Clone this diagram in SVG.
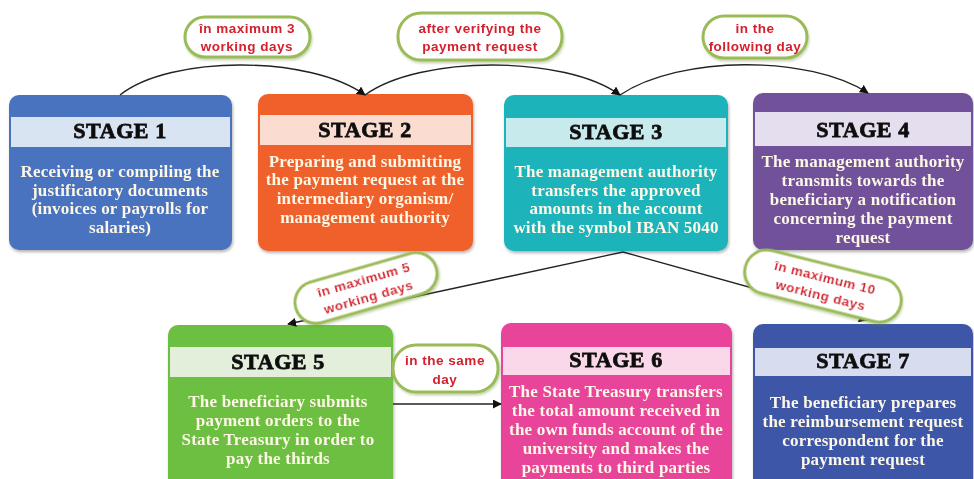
<svg xmlns="http://www.w3.org/2000/svg" width="974" height="479" viewBox="0 0 974 479">
<defs>
<filter id="sh" x="-10%" y="-10%" width="120%" height="125%"><feDropShadow dx="1" dy="2" stdDeviation="1.5" flood-color="#000" flood-opacity="0.3"/></filter>
<filter id="psh" x="-10%" y="-20%" width="120%" height="150%"><feDropShadow dx="1" dy="2" stdDeviation="1.2" flood-color="#6a8a30" flood-opacity="0.35"/></filter>
<marker id="ah" viewBox="0 0 10 10" refX="9" refY="5" markerWidth="9" markerHeight="9" markerUnits="userSpaceOnUse" orient="auto"><path d="M0,0 L10,5 L0,10 z" fill="#111"/></marker>
</defs>
<style>
.title{font-family:"Liberation Serif",serif;font-weight:bold;font-size:22px;letter-spacing:0.6px;fill:#111;stroke:#111;stroke-width:0.8;text-anchor:middle}
.body{font-family:"Liberation Serif",serif;font-weight:bold;font-size:17px;letter-spacing:0.2px;fill:#fdf7e6;text-anchor:middle}
.pill{fill:#fff;stroke:#9bbb59;stroke-width:3}
.lbl{font-family:"Liberation Sans",sans-serif;font-weight:bold;font-size:13.5px;letter-spacing:0.5px;fill:#d3202e;text-anchor:middle}
.con{fill:none;stroke:#222;stroke-width:1.3}
</style>
<rect width="974" height="479" fill="#fff"/>

<g id="stage1" filter="url(#sh)">
<rect x="9" y="95" width="223" height="155" rx="10" fill="#4a72bf"/>
<rect x="11" y="117" width="219" height="30" fill="#d9e4f2"/>
<text class="title" x="120" y="138">STAGE 1</text>
<text class="body" x="120" y="177">Receiving or compiling the</text>
<text class="body" x="120" y="196">justificatory documents</text>
<text class="body" x="120" y="214">(invoices or payrolls for</text>
<text class="body" x="120" y="233">salaries)</text>
</g>

<g id="stage2" filter="url(#sh)">
<rect x="258" y="94" width="215" height="157" rx="10" fill="#f0612b"/>
<rect x="260" y="115" width="211" height="30" fill="#fbdcd0"/>
<text class="title" x="365" y="137">STAGE 2</text>
<text class="body" x="365" y="167">Preparing and submitting</text>
<text class="body" x="365" y="185">the payment request at the</text>
<text class="body" x="365" y="204">intermediary organism/</text>
<text class="body" x="365" y="223">management authority</text>
</g>

<g id="stage3" filter="url(#sh)">
<rect x="504" y="95" width="224" height="156" rx="10" fill="#1db3bb"/>
<rect x="506" y="118" width="220" height="29" fill="#c7eaed"/>
<text class="title" x="616" y="139">STAGE 3</text>
<text class="body" x="616" y="177">The management authority</text>
<text class="body" x="616" y="196">transfers the approved</text>
<text class="body" x="616" y="214">amounts in the account</text>
<text class="body" x="616" y="233">with the symbol IBAN 5040</text>
</g>

<g id="stage4" filter="url(#sh)">
<rect x="753" y="93" width="220" height="157" rx="10" fill="#70519a"/>
<rect x="755" y="112" width="216" height="34" fill="#e5deee"/>
<text class="title" x="863" y="137">STAGE 4</text>
<text class="body" x="863" y="167">The management authority</text>
<text class="body" x="863" y="186">transmits towards the</text>
<text class="body" x="863" y="205">beneficiary a notification</text>
<text class="body" x="863" y="224">concerning the payment</text>
<text class="body" x="863" y="243">request</text>
</g>

<g id="stage5" filter="url(#sh)">
<rect x="168" y="325" width="225" height="170" rx="10" fill="#6cbf3f"/>
<rect x="170" y="347" width="221" height="30" fill="#e3efda"/>
<text class="title" x="278" y="369">STAGE 5</text>
<text class="body" x="278" y="407">The beneficiary submits</text>
<text class="body" x="278" y="426">payment orders to the</text>
<text class="body" x="278" y="445">State Treasury in order to</text>
<text class="body" x="278" y="464">pay the thirds</text>
</g>

<g id="stage6" filter="url(#sh)">
<rect x="501" y="323" width="231" height="172" rx="10" fill="#e8449a"/>
<rect x="503" y="347" width="227" height="28" fill="#fad8e9"/>
<text class="title" x="616" y="367">STAGE 6</text>
<text class="body" x="616" y="397">The State Treasury transfers</text>
<text class="body" x="616" y="416">the total amount received in</text>
<text class="body" x="616" y="435">the own funds account of the</text>
<text class="body" x="616" y="454">university and makes the</text>
<text class="body" x="616" y="473">payments to third parties</text>
</g>

<g id="stage7" filter="url(#sh)">
<rect x="753" y="324" width="220" height="171" rx="10" fill="#3d57a8"/>
<rect x="755" y="348" width="216" height="28" fill="#d7ddef"/>
<text class="title" x="863" y="368">STAGE 7</text>
<text class="body" x="863" y="408">The beneficiary prepares</text>
<text class="body" x="863" y="427">the reimbursement request</text>
<text class="body" x="863" y="446">correspondent for the</text>
<text class="body" x="863" y="465">payment request</text>
</g>

<g id="connectors">
<path class="con" d="M120,95 C170,55 310,55 365,95" marker-end="url(#ah)"/>
<path class="con" d="M365,95 C420,55 565,55 620,95" marker-end="url(#ah)"/>
<path class="con" d="M620,95 C680,55 810,55 868,93" marker-end="url(#ah)"/>
<path class="con" d="M623,252 L288,324" marker-end="url(#ah)"/>
<path class="con" d="M623,252 L867,320" marker-end="url(#ah)"/>
<path class="con" d="M393,404 L501,404" marker-end="url(#ah)"/>
</g>

<g id="label1" filter="url(#psh)">
<rect class="pill" x="185" y="17" width="125" height="40" rx="20"/>
<text class="lbl" x="247" y="33">în maximum 3</text>
<text class="lbl" x="247" y="51">working days</text>
</g>
<g id="label2" filter="url(#psh)">
<rect class="pill" x="398" y="13" width="164" height="47" rx="23"/>
<text class="lbl" x="480" y="33">after verifying the</text>
<text class="lbl" x="480" y="51">payment request</text>
</g>
<g id="label3" filter="url(#psh)">
<rect class="pill" x="703" y="16" width="104" height="42" rx="21"/>
<text class="lbl" x="755" y="33">in the</text>
<text class="lbl" x="755" y="51">following day</text>
</g>
<g id="label4" filter="url(#psh)" transform="rotate(-16 366 288)">
<rect class="pill" x="293" y="267" width="146" height="42" rx="21"/>
<text class="lbl" x="366" y="284">în maximum 5</text>
<text class="lbl" x="366" y="302">working days</text>
</g>
<g id="label5" filter="url(#psh)">
<rect class="pill" x="393" y="345" width="105" height="47" rx="23"/>
<text class="lbl" x="445" y="365">in the same</text>
<text class="lbl" x="445" y="384">day</text>
</g>
<g id="label6" filter="url(#psh)" transform="rotate(14 823 286)">
<rect class="pill" x="743" y="264" width="160" height="44" rx="22"/>
<text class="lbl" x="823" y="282">în maximum 10</text>
<text class="lbl" x="823" y="300">working days</text>
</g>
</svg>
